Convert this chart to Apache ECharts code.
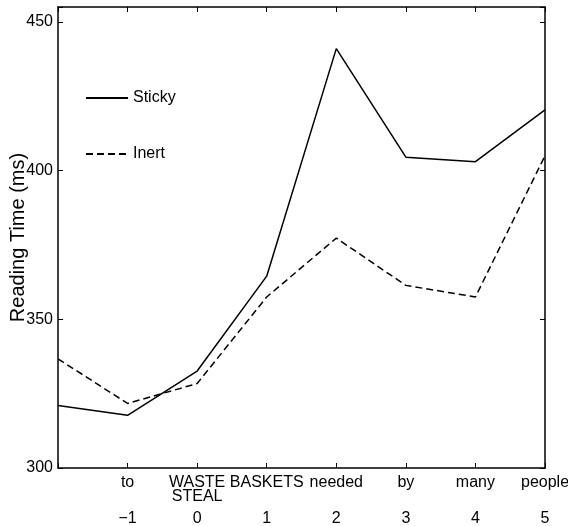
<!DOCTYPE html>
<html>
<head>
<meta charset="utf-8">
<script src="https://cdn.jsdelivr.net/npm/echarts@6/dist/echarts.min.js"></script>
<style>
html,body{margin:0;padding:0;background:#fff;}
#c{width:568px;height:526px;}
</style>
</head>
<body>
<div id="c"></div>
<script>
var positions = [-2, -1, 0, 1, 2, 3, 4, 5];
var wordLabels = ['', 'to', 'WASTE\nSTEAL', 'BASKETS', 'needed', 'by', 'many', 'people'];
var numLabels = ['', '\u22121', '0', '1', '2', '3', '4', '5'];
var sticky = [321, 317.7, 332.6, 364.5, 441, 404.5, 403, 420.4];
var inert = [336.7, 321.7, 328.4, 357.5, 377.3, 361.4, 357.5, 405];
var yTicks = [300, 350, 400, 450];

var FONT = 'Liberation Sans';
function pairs(vals) { return positions.map(function (p, i) { return [p, vals[i]]; }); }
function lookup(arr) { return function (v) { var i = positions.indexOf(v); return i < 0 ? '' : arr[i]; }; }

var chart = echarts.init(document.getElementById('c'), null, {renderer: 'canvas'});
var axisLine = {show: true, onZero: false, lineStyle: {color: '#000', width: 1.5}};
var tickIn = {show: true, inside: true, length: 5, lineStyle: {color: '#000', width: 1}};
chart.setOption({
  animation: false,
  backgroundColor: '#fff',
  textStyle: {fontFamily: FONT},
  grid: {left: 58, right: 23, top: 7, bottom: 58, containLabel: false, outerBoundsMode: 'none'},
  legend: {
    data: ['Sticky', 'Inert'],
    orient: 'vertical', left: 80, top: 85, itemWidth: 42, itemHeight: 14, itemGap: 40,
    itemStyle: {color: 'rgba(0,0,0,0)', borderWidth: 0, borderColor: 'rgba(0,0,0,0)', opacity: 0},
    textStyle: {fontFamily: FONT, fontSize: 16, color: '#000'}
  },
  xAxis: [
    {type: 'value', position: 'bottom', min: -2, max: 5, interval: 1,
     axisLine: axisLine, axisTick: tickIn, splitLine: {show: false},
     axisLabel: {fontSize: 16, color: '#000', fontFamily: FONT, margin: 8, lineHeight: 14,
                 verticalAlign: 'top', formatter: lookup(wordLabels)}},
    {type: 'value', position: 'bottom', min: -2, max: 5, interval: 1,
     axisLine: {show: false, onZero: false}, axisTick: {show: false}, splitLine: {show: false},
     axisLabel: {fontSize: 16, color: '#000', fontFamily: FONT, margin: 42, lineHeight: 17,
                 verticalAlign: 'top', formatter: lookup(numLabels)}},
    {type: 'value', position: 'top', min: -2, max: 5, interval: 1,
     axisLine: axisLine, axisTick: tickIn, splitLine: {show: false}, axisLabel: {show: false}}
  ],
  yAxis: [
    {type: 'value', position: 'left', min: 300, max: 455, interval: 50,
     name: 'Reading Time (ms)', nameLocation: 'middle', nameGap: 30, nameMoveOverlap: false,
     nameTextStyle: {fontSize: 20, color: '#000', fontFamily: FONT},
     axisLine: axisLine, axisTick: tickIn, splitLine: {show: false},
     axisLabel: {fontSize: 16, color: '#000', fontFamily: FONT, margin: 5,
                 formatter: function (v) { return yTicks.indexOf(v) >= 0 ? String(v) : ''; }}},
    {type: 'value', position: 'right', min: 300, max: 455, interval: 50,
     axisLine: axisLine, axisTick: tickIn, splitLine: {show: false}, axisLabel: {show: false}}
  ],
  series: [
    {name: 'Sticky', type: 'line', xAxisIndex: 0, yAxisIndex: 0, data: pairs(sticky),
     symbol: 'none', lineStyle: {color: '#000', width: 1.5, type: 'solid'}, itemStyle: {color: '#000'}},
    {name: 'Inert', type: 'line', xAxisIndex: 0, yAxisIndex: 0, data: pairs(inert),
     symbol: 'none', lineStyle: {color: '#000', width: 1.5, type: [7, 4]}, itemStyle: {color: '#000'}}
  ]
});
</script>
</body>
</html>
